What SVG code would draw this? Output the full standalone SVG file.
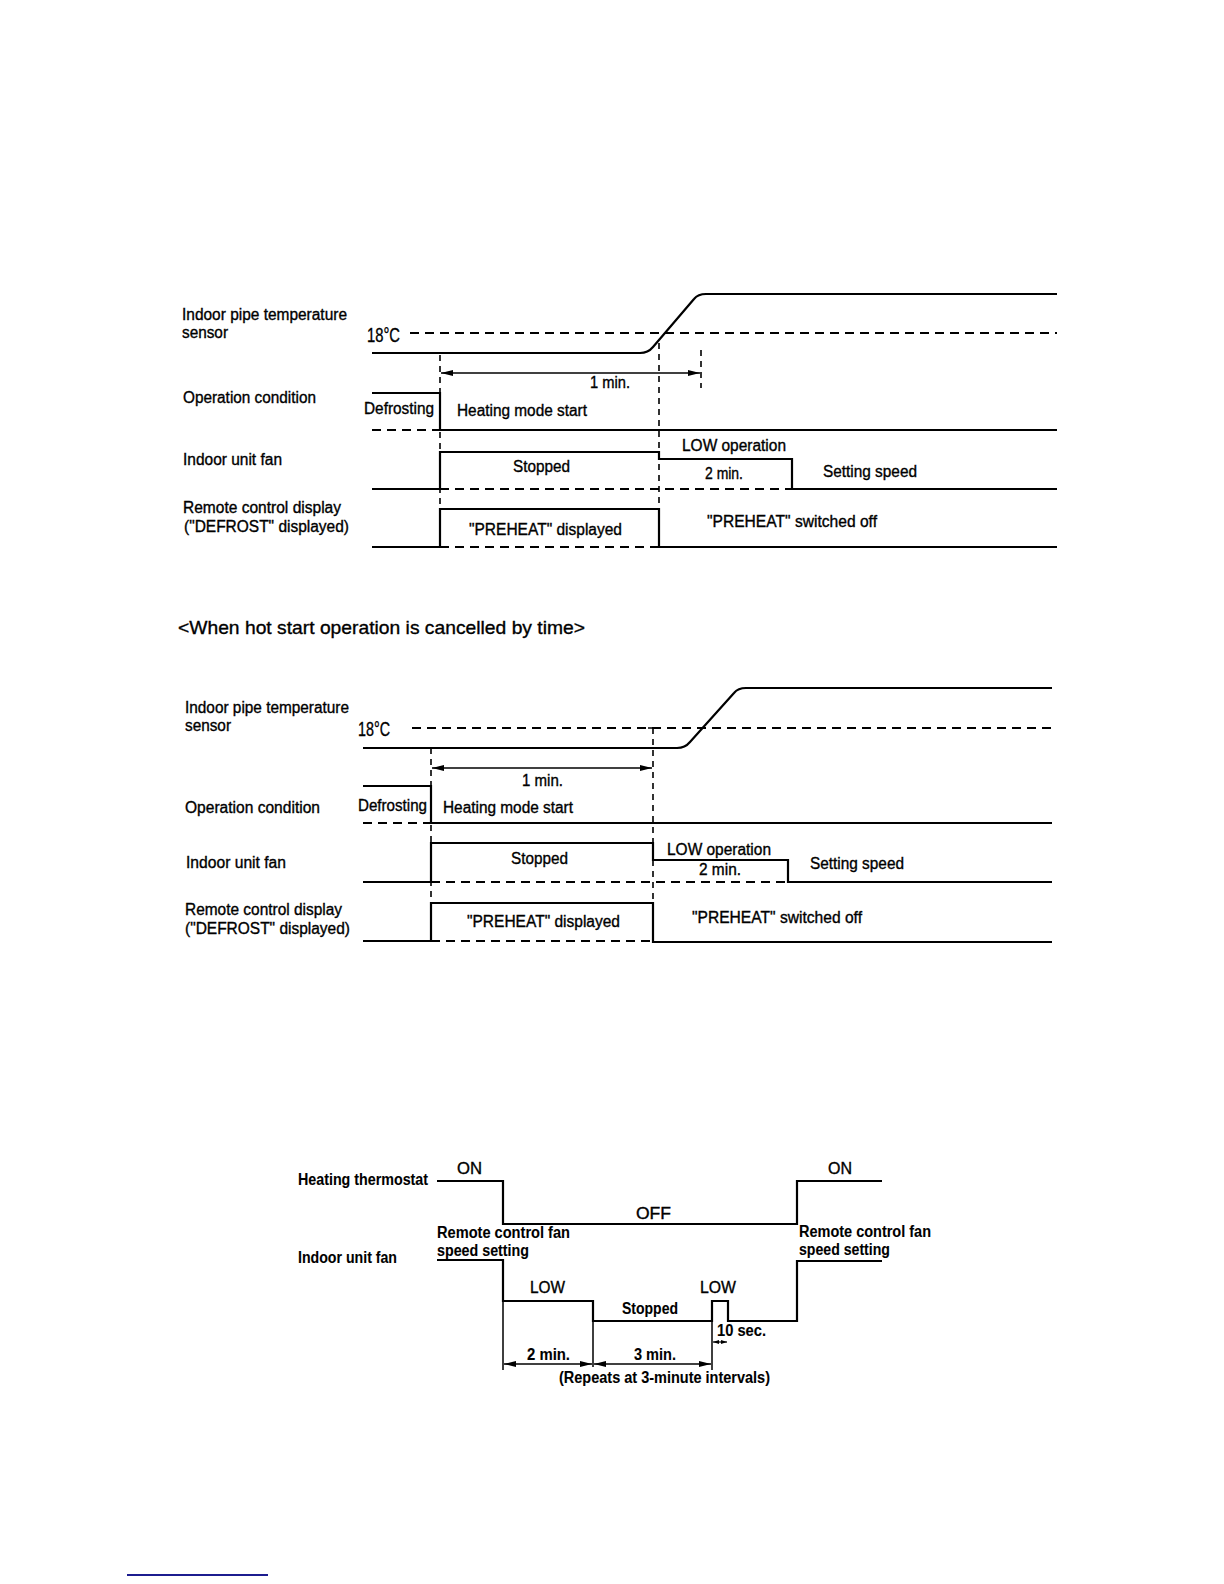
<svg xmlns="http://www.w3.org/2000/svg" width="1224" height="1584" viewBox="0 0 1224 1584">
<style>
.s{stroke:#000;stroke-width:2.2;fill:none}
.d{stroke:#000;stroke-width:2.2;stroke-dasharray:9 6;fill:none}
.v{stroke:#000;stroke-width:1.6;stroke-dasharray:6 5;fill:none}
.a{stroke:#000;stroke-width:1.7;fill:none;marker-start:url(#ah);marker-end:url(#ah)}
.t{font-family:"Liberation Sans",Arial,Helvetica,sans-serif;font-size:16px;fill:#000;stroke:#000;stroke-width:0.35}
.b{font-weight:bold;stroke-width:0.1}
.big{font-size:20px}
.ttl{font-size:19px}
</style>
<defs>
<marker id="ah" viewBox="0 0 12 6" refX="12" refY="3" markerWidth="12" markerHeight="6" markerUnits="userSpaceOnUse" orient="auto-start-reverse">
<path d="M0,0 L12,3 L0,6 z" fill="#000"/>
</marker>
<marker id="as" viewBox="0 0 6 4" refX="6" refY="2" markerWidth="6" markerHeight="4" markerUnits="userSpaceOnUse" orient="auto-start-reverse">
<path d="M0,0 L6,2 L0,4 z" fill="#000"/>
</marker>
</defs>
<rect width="1224" height="1584" fill="#fff"/>

<!-- Diagram 1 -->
<g id="chart1">
<g id="c1-labels">
<text class="t" x="182" y="320" textLength="165" lengthAdjust="spacingAndGlyphs">Indoor pipe temperature</text>
<text class="t" x="182" y="338" textLength="46" lengthAdjust="spacingAndGlyphs">sensor</text>
<text class="t big" x="367" y="342" textLength="33" lengthAdjust="spacingAndGlyphs">18°C</text>
<text class="t" x="183" y="403" textLength="133" lengthAdjust="spacingAndGlyphs">Operation condition</text>
<text class="t" x="183" y="465" textLength="99" lengthAdjust="spacingAndGlyphs">Indoor unit fan</text>
<text class="t" x="183" y="513" textLength="158" lengthAdjust="spacingAndGlyphs">Remote control display</text>
<text class="t" x="184" y="532" textLength="165" lengthAdjust="spacingAndGlyphs">(&quot;DEFROST&quot; displayed)</text>
</g>
<g id="c1-texts">
<text class="t" x="590" y="388" textLength="40" lengthAdjust="spacingAndGlyphs">1 min.</text>
<text class="t" x="364" y="414" textLength="70" lengthAdjust="spacingAndGlyphs">Defrosting</text>
<text class="t" x="457" y="416" textLength="130" lengthAdjust="spacingAndGlyphs">Heating mode start</text>
<text class="t" x="513" y="472" textLength="57" lengthAdjust="spacingAndGlyphs">Stopped</text>
<text class="t" x="682" y="451" textLength="104" lengthAdjust="spacingAndGlyphs">LOW operation</text>
<text class="t" x="705" y="479" textLength="38" lengthAdjust="spacingAndGlyphs">2 min.</text>
<text class="t" x="823" y="477" textLength="94" lengthAdjust="spacingAndGlyphs">Setting speed</text>
<text class="t" x="469" y="535" textLength="153" lengthAdjust="spacingAndGlyphs">&quot;PREHEAT&quot; displayed</text>
<text class="t" x="707" y="527" textLength="170" lengthAdjust="spacingAndGlyphs">&quot;PREHEAT&quot; switched off</text>
</g>
<g id="c1-lines">
<path class="d" d="M410,333 H1057"/>
<path class="s" d="M372,353 H640 Q648,353 653,347 L694,299 Q698,294 706,294 H1057"/>
<path class="s" d="M372,393 H440 V430 H1057"/>
<path class="d" d="M372,430 H440"/>
<path class="s" d="M372,489 H440 V452 H659 V459 H792 V489 H1057"/>
<path class="d" d="M440,489 H792"/>
<path class="s" d="M372,547 H440 V509 H659 V547 H1057"/>
<path class="d" d="M440,547 H659"/>
<path class="v" d="M440,355 V547"/>
<path class="v" d="M659,343 V547"/>
<path class="v" d="M701,350 V388"/>
<path class="a" d="M441,373 H700"/>
</g>
</g>

<text class="t ttl" x="178" y="634" textLength="407" lengthAdjust="spacingAndGlyphs">&lt;When hot start operation is cancelled by time&gt;</text>

<!-- Diagram 2 -->
<g id="chart2">
<g id="c2-labels">
<text class="t" x="185" y="713" textLength="164" lengthAdjust="spacingAndGlyphs">Indoor pipe temperature</text>
<text class="t" x="185" y="731" textLength="46" lengthAdjust="spacingAndGlyphs">sensor</text>
<text class="t big" x="358" y="736" textLength="32" lengthAdjust="spacingAndGlyphs">18°C</text>
<text class="t" x="185" y="813" textLength="135" lengthAdjust="spacingAndGlyphs">Operation condition</text>
<text class="t" x="186" y="868" textLength="100" lengthAdjust="spacingAndGlyphs">Indoor unit fan</text>
<text class="t" x="185" y="915" textLength="157" lengthAdjust="spacingAndGlyphs">Remote control display</text>
<text class="t" x="185" y="934" textLength="165" lengthAdjust="spacingAndGlyphs">(&quot;DEFROST&quot; displayed)</text>
</g>
<g id="c2-texts">
<text class="t" x="522" y="786" textLength="41" lengthAdjust="spacingAndGlyphs">1 min.</text>
<text class="t" x="358" y="811" textLength="69" lengthAdjust="spacingAndGlyphs">Defrosting</text>
<text class="t" x="443" y="813" textLength="130" lengthAdjust="spacingAndGlyphs">Heating mode start</text>
<text class="t" x="511" y="864" textLength="57" lengthAdjust="spacingAndGlyphs">Stopped</text>
<text class="t" x="667" y="855" textLength="104" lengthAdjust="spacingAndGlyphs">LOW operation</text>
<text class="t" x="699" y="875" textLength="42" lengthAdjust="spacingAndGlyphs">2 min.</text>
<text class="t" x="810" y="869" textLength="94" lengthAdjust="spacingAndGlyphs">Setting speed</text>
<text class="t" x="467" y="927" textLength="153" lengthAdjust="spacingAndGlyphs">&quot;PREHEAT&quot; displayed</text>
<text class="t" x="692" y="923" textLength="170" lengthAdjust="spacingAndGlyphs">&quot;PREHEAT&quot; switched off</text>
</g>
<g id="c2-lines">
<path class="d" d="M412,728 H1052"/>
<path class="s" d="M363,748 H677 Q685,748 690,742 L734,693 Q738,688 746,688 H1052"/>
<path class="s" d="M363,786 H431 V823 H1052"/>
<path class="d" d="M363,823 H431"/>
<path class="s" d="M363,882 H431 V843 H653 V860 H788 V882 H1052"/>
<path class="d" d="M431,882 H788"/>
<path class="s" d="M363,941 H431 V903 H653 V942 H1052"/>
<path class="d" d="M431,941 H653"/>
<path class="v" d="M431,748 V941"/>
<path class="v" d="M653,728 V941"/>
<path class="s" style="stroke-width:1.5" d="M648,728 H658"/>
<path class="a" d="M432,768 H652"/>
</g>
</g>

<!-- Diagram 3 -->
<g id="chart3">
<g id="c3-labels">
<text class="t b" x="298" y="1185" textLength="130" lengthAdjust="spacingAndGlyphs">Heating thermostat</text>
<text class="t b" x="298" y="1263" textLength="99" lengthAdjust="spacingAndGlyphs">Indoor unit fan</text>
</g>
<g id="c3-texts">
<text class="t" x="457" y="1174" textLength="25" lengthAdjust="spacingAndGlyphs">ON</text>
<text class="t" x="828" y="1174" textLength="24" lengthAdjust="spacingAndGlyphs">ON</text>
<text class="t" x="636" y="1219" textLength="35" lengthAdjust="spacingAndGlyphs">OFF</text>
<text class="t b" x="437" y="1238" textLength="133" lengthAdjust="spacingAndGlyphs">Remote control  fan</text>
<text class="t b" x="437" y="1256" textLength="92" lengthAdjust="spacingAndGlyphs">speed setting</text>
<text class="t b" x="799" y="1237" textLength="132" lengthAdjust="spacingAndGlyphs">Remote control fan</text>
<text class="t b" x="799" y="1255" textLength="91" lengthAdjust="spacingAndGlyphs">speed setting</text>
<text class="t" x="530" y="1293" textLength="35" lengthAdjust="spacingAndGlyphs">LOW</text>
<text class="t" x="700" y="1293" textLength="36" lengthAdjust="spacingAndGlyphs">LOW</text>
<text class="t b" x="622" y="1314" textLength="56" lengthAdjust="spacingAndGlyphs">Stopped</text>
<text class="t b" x="717" y="1336" textLength="49" lengthAdjust="spacingAndGlyphs">10 sec.</text>
<text class="t b" x="527" y="1360" textLength="43" lengthAdjust="spacingAndGlyphs">2 min.</text>
<text class="t b" x="634" y="1360" textLength="42" lengthAdjust="spacingAndGlyphs">3 min.</text>
<text class="t b" x="559" y="1383" textLength="211" lengthAdjust="spacingAndGlyphs">(Repeats at 3-minute intervals)</text>
</g>
<g id="c3-lines">
<path class="s" d="M437,1181 H503 V1224 H797 V1181 H882"/>
<path class="s" d="M437,1260 H503 V1301 H593 V1321 H712 V1301 H728 V1321 H797 V1261 H882"/>
<path class="s" style="stroke-width:1.5" d="M503,1301 V1370 M593,1321 V1367 M712,1321 V1370"/>
<path class="a" d="M504,1364 H592"/>
<path class="a" d="M594,1364 H711"/>
<path stroke="#000" stroke-width="1.2" fill="none" marker-start="url(#as)" marker-end="url(#as)" d="M713,1342 H727"/>
</g>
</g>

<line x1="127" y1="1575" x2="268" y2="1575" stroke="#1c1c8f" stroke-width="2"/>
</svg>
